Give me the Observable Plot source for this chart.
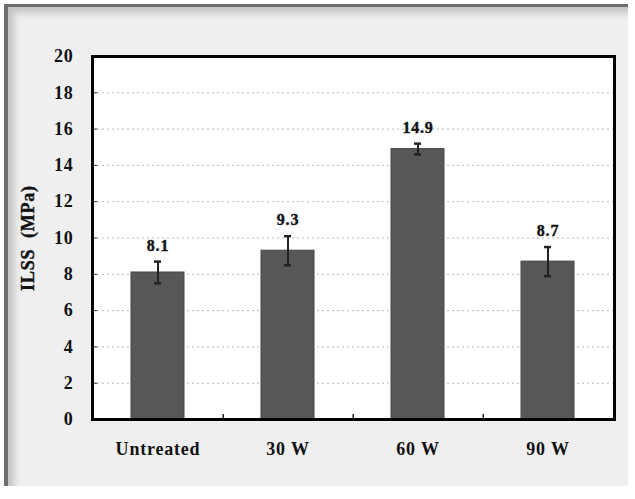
<!DOCTYPE html>
<html>
<head>
<meta charset="utf-8">
<script src="https://cdn.jsdelivr.net/npm/d3@7"></script>
<script src="https://cdn.jsdelivr.net/npm/@observablehq/plot@0.6"></script>
<style>
  html, body { margin: 0; padding: 0; background: #ffffff; }
  #wrap { position: relative; width: 635px; height: 499px; overflow: hidden; }
  #panel {
    position: absolute; left: 4px; top: 4px; width: 624px; height: 482px;
    background: #efefef;
    box-shadow: inset 4px 3px 0 #6e6e6e, inset 10px 9px 7px #c4c4c4;
  }
  #chart { position: absolute; left: 0; top: 0; }
  #chart text { letter-spacing: 0.8px; }
</style>
</head>
<body>
<div id="wrap"><div id="panel"></div><div id="chart"></div></div>
<script>
const categories = ["Untreated", "30 W", "60 W", "90 W"];
const values = [8.1, 9.3, 14.9, 8.7];
const errors = [0.6, 0.8, 0.3, 0.8];
const yTicks = [0, 2, 4, 6, 8, 10, 12, 14, 16, 18, 20];
const gridTicks = [2, 4, 6, 8, 10, 12, 14, 16, 18];
const yTitle = "ILSS\u00a0 (MPa)";

const data = categories.map((c, i) => ({
  cat: c, v: values[i], lo: values[i] - errors[i], hi: values[i] + errors[i],
  label: values[i].toFixed(1)
}));

const W = 635, H = 499, ML = 92, MR = 21, MT = 56, MB = 80;
const step = (W - ML - MR) / categories.length;
const font = "'Liberation Serif', 'Times New Roman', serif";
const ink = "#111";

const chart = Plot.plot({
  width: W, height: H,
  marginLeft: ML, marginRight: MR, marginTop: MT, marginBottom: MB,
  style: { background: "transparent", fontFamily: font, fontWeight: "bold", fontSize: "18px", color: ink },
  x: { domain: categories, paddingInner: 0.59, paddingOuter: 0.295, label: null },
  y: { domain: [0, 20], label: null },
  marks: [
    Plot.frame({ fill: "white", stroke: null }),
    Plot.gridY(gridTicks, { stroke: "#b8b8b8", strokeOpacity: 1, strokeDasharray: "2,3" }),
    Plot.barY(data, { x: "cat", y: "v", fill: "#575757", stroke: "#474747", strokeWidth: 1 }),
    Plot.ruleX(data, { x: "cat", y1: "lo", y2: "hi", stroke: "#222", strokeWidth: 2 }),
    Plot.tickY(data, { x: "cat", y: "hi", stroke: "#222", strokeWidth: 2.5, inset: 23 }),
    Plot.tickY(data, { x: "cat", y: "lo", stroke: "#222", strokeWidth: 2.5, inset: 23 }),
    Plot.text(data, { x: "cat", y: "hi", text: "label", dy: -16, fontSize: 16, fontWeight: "bold", fill: ink, stroke: ink, strokeWidth: 0.4 }),
    Plot.ruleX(categories.slice(0, categories.length - 1), { x: d => d, dx: step / 2, y1: 0, y2: 0.28, stroke: "#222", strokeWidth: 1.5 }),
    Plot.axisY({ ticks: yTicks, tickSize: 5, dx: 5, tickFormat: () => "", label: null, stroke: "#222" }),
    Plot.axisY({ ticks: yTicks, tickSize: 0, tickPadding: 19, label: null, fontSize: 18, fontWeight: "bold", fill: ink, stroke: ink, strokeWidth: 0.4 }),
    Plot.axisX({ tickSize: 0, tickPadding: 23, label: null, fontSize: 18, fontWeight: "bold", fill: ink, stroke: ink, strokeWidth: 0.4 }),
    Plot.text([yTitle], { frameAnchor: "left", textAnchor: "middle", lineAnchor: "middle", rotate: -90, dx: -64, fontSize: 18, fontWeight: "bold", fill: ink, stroke: ink, strokeWidth: 0.4 }),
    Plot.frame({ stroke: "#000", strokeWidth: 3 })
  ]
});
document.getElementById("chart").appendChild(chart);
</script>
</body>
</html>
